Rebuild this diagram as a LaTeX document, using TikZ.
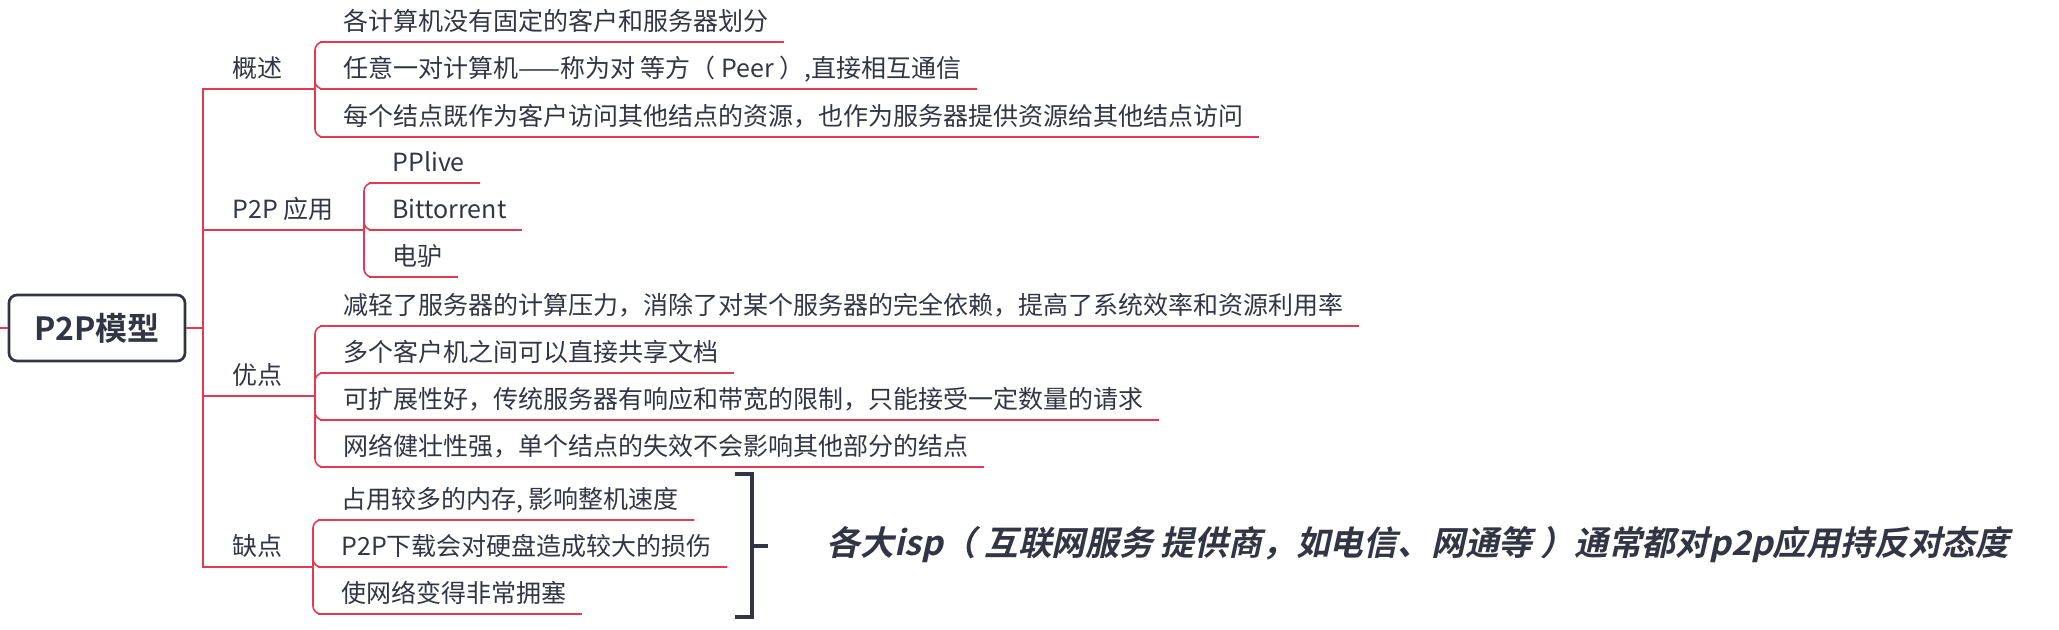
\documentclass[tikz,border=0pt]{standalone}
\usepackage{fontspec}
\setmainfont{Noto Sans CJK SC}
\newfontfamily\rootfont{Noto Sans CJK SC Bold}
\newfontfamily\remarkfont{Noto Sans CJK SC Bold}[FakeSlant=0.22]
\usepackage{tikz}
\usetikzlibrary{positioning}
\definecolor{branchred}{RGB}{229, 57, 83}
\definecolor{inkdark}{RGB}{50, 54, 68}

\begin{document}
\begin{tikzpicture}[x=0.5pt, y=-0.5pt,
    branch/.style={draw=branchred, line width=0.8pt},
    subbranch/.style={branch, rounded corners=4pt},
    topic/.style={anchor=south west, inner xsep=7.5pt, inner ysep=5.5pt,
                  text depth=0pt, text height=9.5pt, text=inkdark,
                  font=\fontsize{12.5}{15}\selectfont},
    leaf/.style={topic},
    rootbox/.style={draw=inkdark, line width=1.35pt, rounded corners=4pt,
                    fill=white, minimum width=88pt, minimum height=33pt,
                    text=inkdark, font=\rootfont\fontsize{16}{18}\selectfont},
    bracket/.style={draw=inkdark, line width=2pt},
    remark/.style={anchor=west, inner sep=0pt, text=inkdark,
                   font=\remarkfont\fontsize{16.9}{20}\selectfont}
]
    \useasboundingbox (0,0) rectangle (2059,629);

    % Root
    \coordinate (edge) at (0,328);
    \coordinate (hub) at (203,328);
    \node[rootbox] (root) at (97,328) {P2P模型};
    \draw[branch] (edge) -- (root.west);
    \draw[branch] (root.east) -- (hub);

    % Main topics
    \node[topic] (overview) at (217,89) {概述};
    \node[topic] (apps) at (217,230) {P2P 应用};
    \node[topic] (pros) at (217,396) {优点};
    \node[topic] (cons) at (217,567) {缺点};
    \coordinate (overviewj) at (315,89);
    \coordinate (appsj) at (364,230);
    \coordinate (prosj) at (315,396);
    \coordinate (consj) at (313,567);
    \draw[branch] (hub) |- (overview.south west) -- (overviewj);
    \draw[branch] (hub) |- (apps.south west) -- (appsj);
    \draw[branch] (hub) |- (pros.south west) -- (prosj);
    \draw[branch] (hub) |- (cons.south west) -- (consj);

    % Overview
    \node[leaf] (ov1) at (328,42) {各计算机没有固定的客户和服务器划分};
    \node[leaf] (ov2) at (328,89) {任意一对计算机——称为对 等方（ Peer ）,直接相互通信};
    \node[leaf] (ov3) at (328,137) {每个结点既作为客户访问其他结点的资源，也作为服务器提供资源给其他结点访问};
    \draw[subbranch] (overviewj) |- (ov1.south west) -- (ov1.south east);
    \draw[subbranch] (overviewj) |- (ov2.south west) -- (ov2.south east);
    \draw[subbranch] (overviewj) |- (ov3.south west) -- (ov3.south east);

    % Applications
    \node[leaf] (app1) at (377,183) {PPlive};
    \node[leaf] (app2) at (377,230) {Bittorrent};
    \node[leaf] (app3) at (377,277) {电驴};
    \draw[subbranch] (appsj) |- (app1.south west) -- (app1.south east);
    \draw[subbranch] (appsj) |- (app2.south west) -- (app2.south east);
    \draw[subbranch] (appsj) |- (app3.south west) -- (app3.south east);

    % Advantages
    \node[leaf] (pro1) at (328,326) {减轻了服务器的计算压力，消除了对某个服务器的完全依赖，提高了系统效率和资源利用率};
    \node[leaf] (pro2) at (328,373) {多个客户机之间可以直接共享文档};
    \node[leaf] (pro3) at (328,420) {可扩展性好，传统服务器有响应和带宽的限制，只能接受一定数量的请求};
    \node[leaf] (pro4) at (328,467) {网络健壮性强，单个结点的失效不会影响其他部分的结点};
    \draw[subbranch] (prosj) |- (pro1.south west) -- (pro1.south east);
    \draw[subbranch] (prosj) |- (pro2.south west) -- (pro2.south east);
    \draw[subbranch] (prosj) |- (pro3.south west) -- (pro3.south east);
    \draw[subbranch] (prosj) |- (pro4.south west) -- (pro4.south east);

    % Disadvantages
    \node[leaf] (con1) at (326,520) {占用较多的内存, 影响整机速度};
    \node[leaf] (con2) at (326,567) {P2P下载会对硬盘造成较大的损伤};
    \node[leaf] (con3) at (326,614) {使网络变得非常拥塞};
    \draw[subbranch] (consj) |- (con1.south west) -- (con1.south east);
    \draw[subbranch] (consj) |- (con2.south west) -- (con2.south east);
    \draw[subbranch] (consj) |- (con3.south west) -- (con3.south east);

    % Summary bracket
    \coordinate (brtop) at (735,474);
    \coordinate (brmid) at (752,546);
    \coordinate (brbot) at (735,617);
    \coordinate (brtip) at (768,546);
    \draw[bracket] (brtop) -| (brmid) |- (brbot);
    \draw[bracket] (brmid) -- (brtip);
    \node[remark] (isp) at (826,545) {各大isp（ 互联网服务 提供商，如电信、网通等 ）通常都对p2p应用持反对态度};
\end{tikzpicture}
\end{document}
